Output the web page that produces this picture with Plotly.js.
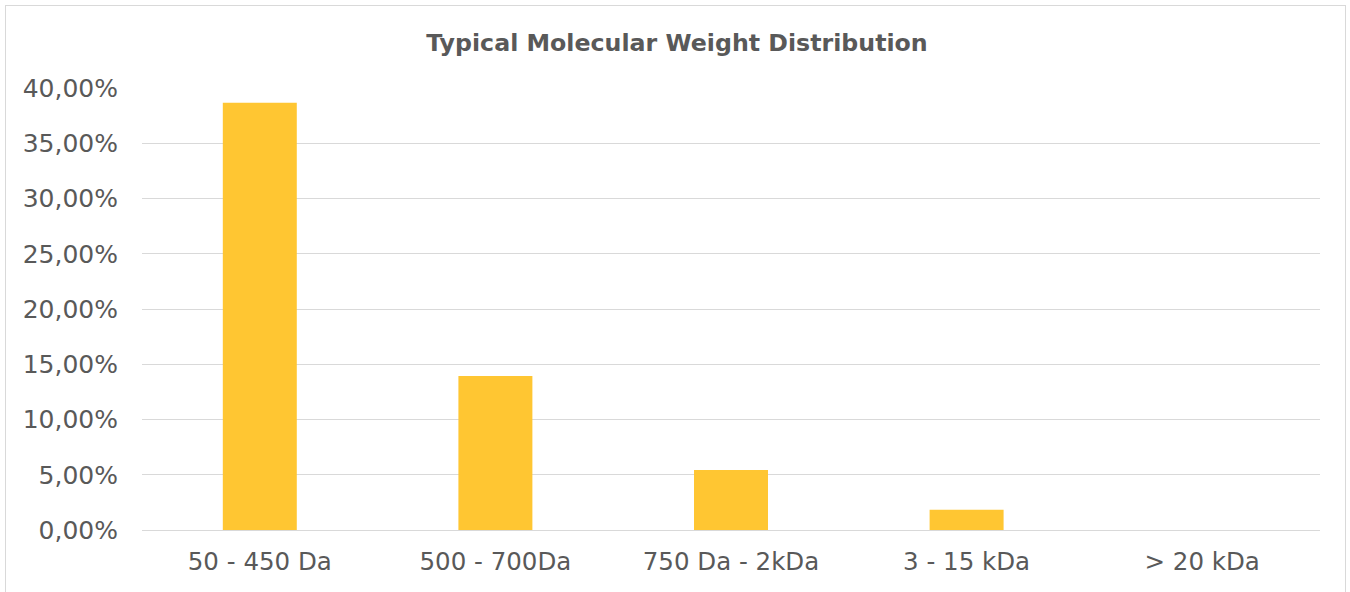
<!DOCTYPE html>
<html>
<head>
<meta charset="utf-8">
<script src="https://cdn.plot.ly/plotly-3.0.1.min.js"></script>
<style>
html,body{margin:0;padding:0;background:#fff;}
#wrap{position:relative;width:1350px;height:592px;overflow:hidden;}
#chart{position:absolute;left:0;top:0;width:1350px;height:592px;}
#frame{position:absolute;left:5px;top:5px;width:1341px;height:600px;border:1px solid #d9d9d9;box-sizing:border-box;pointer-events:none;}
</style>
</head>
<body>
<div id="wrap"><div id="chart"></div><div id="frame"></div></div>
<script>
const categories = ["50 - 450 Da", "500 - 700Da", "750 Da - 2kDa", "3 - 15 kDa", "> 20 kDa"];
const shares = [0.3867, 0.1394, 0.0543, 0.0184, 0];
const yTicks = [0, 0.05, 0.10, 0.15, 0.20, 0.25, 0.30, 0.35, 0.40];

const trace = {
  type: 'bar',
  x: categories,
  y: shares,
  marker: {color: '#FFC632'},
  hoverinfo: 'x+y'
};

const layout = {
  width: 1350, height: 592,
  margin: {l: 142, r: 30, t: 88, b: 62},
  paper_bgcolor: '#ffffff',
  plot_bgcolor: '#ffffff',
  separators: ', ',
  bargap: 0.686,
  showlegend: false,
  font: {family: 'Verdana, "DejaVu Sans", sans-serif', color: '#595959', size: 24},
  title: {
    text: '<b>Typical Molecular Weight Distribution</b>',
    font: {size: 23.7, color: '#595959', family: 'Verdana, "DejaVu Sans", sans-serif'},
    x: 677 / 1350, xref: 'container', xanchor: 'center',
    y: 1 - 43 / 592, yref: 'container', yanchor: 'middle'
  },
  xaxis: {
    type: 'category',
    showgrid: false,
    showline: false,
    ticks: '',
    tickfont: {size: 24.5, color: '#595959'},
    ticklabelstandoff: 14,
    fixedrange: true
  },
  yaxis: {
    range: [0, 0.40],
    tickvals: yTicks,
    tickformat: '.2%',
    showgrid: true,
    gridcolor: '#d9d9d9',
    gridwidth: 1,
    zeroline: true,
    zerolinecolor: '#d9d9d9',
    zerolinewidth: 1,
    showline: false,
    ticks: '',
    tickfont: {size: 25, color: '#595959'},
    ticklabelstandoff: 23,
    fixedrange: true
  }
};

Plotly.newPlot('chart', [trace], layout, {displayModeBar: false, staticPlot: true});
</script>
</body>
</html>
